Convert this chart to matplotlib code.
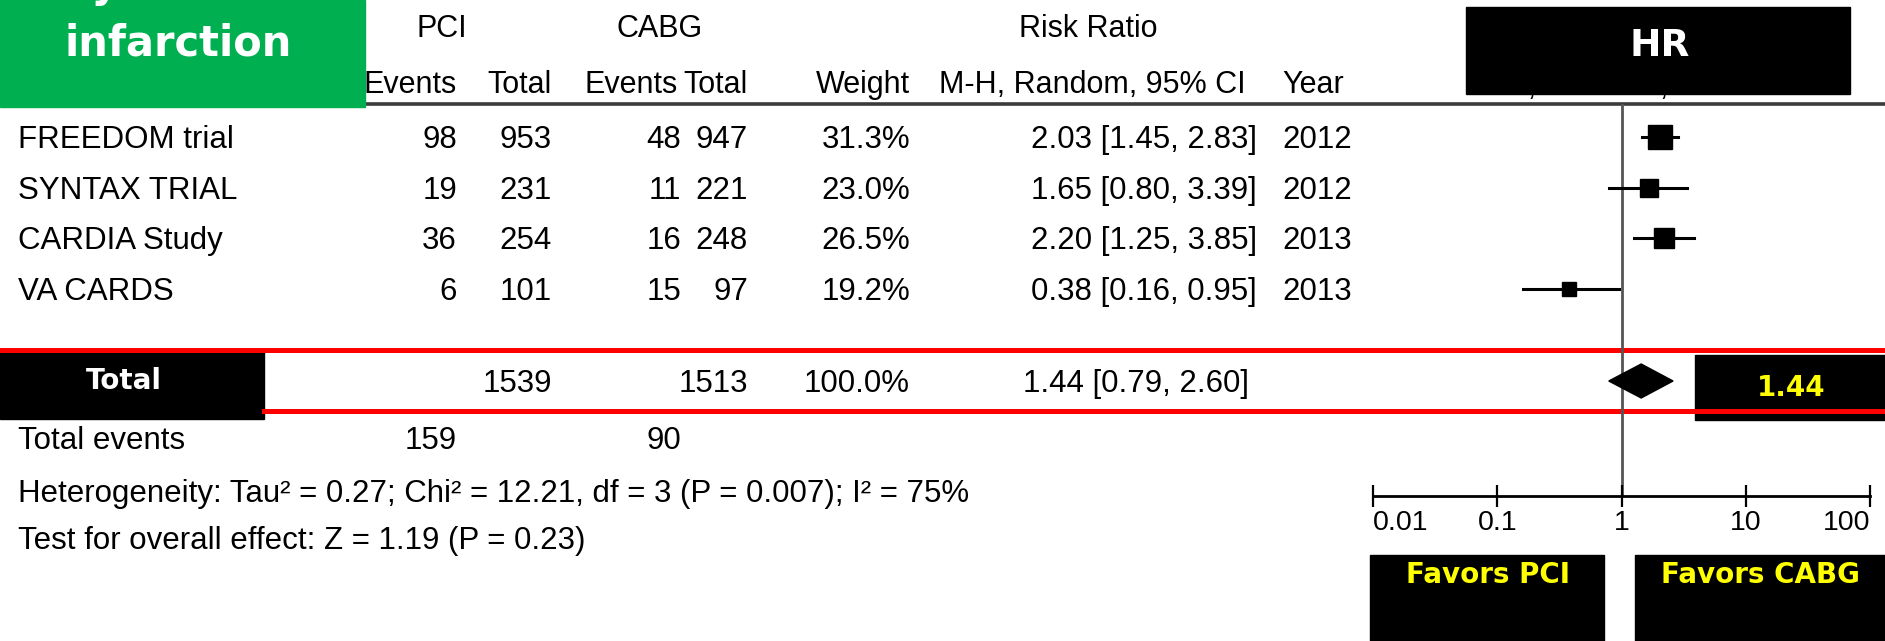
import numpy as np
import matplotlib
matplotlib.use("Agg")
import matplotlib.pyplot as plt
from matplotlib.patches import Rectangle

plt.rcParams['font.family'] = ['Liberation Sans', 'DejaVu Sans']

# study level data
studies = ["FREEDOM trial", "SYNTAX TRIAL", "CARDIA Study", "VA CARDS"]
pci_events = [98, 19, 36, 6]
pci_total = [953, 231, 254, 101]
cabg_events = [48, 11, 16, 15]
cabg_total = [947, 221, 248, 97]
weights = [31.3, 23.0, 26.5, 19.2]
rr = [2.03, 1.65, 2.20, 0.38]
ci_lo = [1.45, 0.80, 1.25, 0.16]
ci_hi = [2.83, 3.39, 3.85, 0.95]
years = [2012, 2012, 2013, 2013]

# pooled result
total_pci = 1539
total_cabg = 1513
total_weight = 100.0
total_rr = 1.44
total_lo = 0.79
total_hi = 2.60
events_pci = 159
events_cabg = 90
heterogeneity = "Heterogeneity: Tau\u00b2 = 0.27; Chi\u00b2 = 12.21, df = 3 (P = 0.007); I\u00b2 = 75%"
overall = "Test for overall effect: Z = 1.19 (P = 0.23)"

axis_ticks = [0.01, 0.1, 1, 10, 100]
axis_labels = ["0.01", "0.1", "1", "10", "100"]

W, H = 1885, 641
fig = plt.figure(figsize=(W / 100, H / 100), dpi=100)

# overlay in pixel units for the table part
ov = fig.add_axes([0, 0, 1, 1])
ov.set_xlim(0, W)
ov.set_ylim(H, 0)
ov.axis("off")

fs = 22.5
dy = 3  # nudge so the glyphs sit on the row centre


def cell(x, y, s, ha="right", size=fs):
    ov.text(x, y + dy, s, fontsize=size, ha=ha, va="center")


row_y = [137, 188, 238, 289]
total_y = 381
col_pci_ev, col_pci_tot, col_cabg_ev, col_cabg_tot = 457, 552, 681, 748
col_weight, col_rr, col_year = 910, 1257, 1282

# headers
h1, h2 = 26, 82
hs = 22
cell(442, h1, "PCI", "center", hs)
cell(660, h1, "CABG", "center", hs)
cell(1088, h1, "Risk Ratio", "center", hs)
cell(1625, h1, "Risk Ratio", "center", hs)
cell(col_pci_ev, h2, "Events", size=hs)
cell(col_pci_tot, h2, "Total", size=hs)
cell(col_cabg_ev - 3, h2, "Events", size=hs)
cell(col_cabg_tot, h2, "Total", size=hs)
cell(col_weight, h2, "Weight", size=hs)
cell(1092, h2, "M-H, Random, 95% CI", "center", hs)
cell(col_year, h2, "Year", "left", hs)
cell(1623, h2 + 2, "M-H, Random, 95% CI", "center", hs)
ov.plot([365, W], [104, 104], color="#3a3a3a", lw=2.6)

# study rows
for i, y in enumerate(row_y):
    cell(18, y, studies[i], "left")
    cell(col_pci_ev, y, str(pci_events[i]))
    cell(col_pci_tot, y, str(pci_total[i]))
    cell(col_cabg_ev, y, str(cabg_events[i]))
    cell(col_cabg_tot, y, str(cabg_total[i]))
    cell(col_weight, y, f"{weights[i]:.1f}%")
    cell(col_rr, y, f"{rr[i]:.2f} [{ci_lo[i]:.2f}, {ci_hi[i]:.2f}]")
    cell(col_year, y, str(years[i]), "left")

# total row
cell(col_pci_tot, total_y, str(total_pci))
cell(col_cabg_tot, total_y, str(total_cabg))
cell(col_weight, total_y, f"{total_weight:.1f}%")
cell(col_rr - 8, total_y, f"{total_rr:.2f} [{total_lo:.2f}, {total_hi:.2f}]")

cell(18, 438, "Total events", "left")
cell(col_pci_ev, 438, str(events_pci))
cell(col_cabg_ev, 438, str(events_cabg))
cell(18, 491, heterogeneity, "left")
cell(18, 538, overall, "left")

# forest panel on a log scale
x0, x1 = 1373, 1870
y_top, y_axis = 104, 496
fx = fig.add_axes([x0 / W, 1 - y_axis / H, (x1 - x0) / W, (y_axis - y_top) / H])
fx.set_xscale("log")
fx.set_xlim(axis_ticks[0], axis_ticks[-1])
fx.set_ylim(y_axis, y_top)
fx.patch.set_alpha(0)
for s in ["top", "left", "right"]:
    fx.spines[s].set_visible(False)
fx.spines["bottom"].set_linewidth(2)
fx.set_yticks([])
fx.set_xticks(axis_ticks)
fx.set_xticklabels(axis_labels)
fx.xaxis.set_minor_locator(matplotlib.ticker.NullLocator())
fx.tick_params(axis="x", direction="inout", length=16, width=1.6, labelsize=20.5, pad=2)
tl = fx.get_xticklabels()
tl[0].set_ha("left")
tl[-1].set_ha("right")

fx.axvline(1, color="#555555", lw=2, zorder=1)
for i, y in enumerate(row_y):
    fx.plot([ci_lo[i], ci_hi[i]], [y, y], color="black", lw=2.2, zorder=2)
    fx.plot(rr[i], y, marker="s", color="black", ms=0.55 * weights[i], zorder=3)

dh = 17
fx.fill([total_lo, total_rr, total_hi, total_rr],
        [total_y, total_y - dh, total_y, total_y + dh],
        color="black", zorder=3)

# highlight boxes and labels
bold = dict(fontweight="bold", family="DejaVu Sans", zorder=5)
ov.add_patch(Rectangle((0, 0), 365, 107, color="#00B050", zorder=4))
ov.text(178, -3, "Myocardial", fontsize=30, color="white", ha="center", va="baseline", **bold)
ov.text(178, 56, "infarction", fontsize=30, color="white", ha="center", va="baseline", **bold)

ov.add_patch(Rectangle((1466, 7), 384, 87, color="black", zorder=4))
ov.text(1660, 46, "HR", fontsize=27, color="white", ha="center", va="center", **bold)

ov.add_patch(Rectangle((0, 352), 264, 67, color="black", zorder=4))
ov.text(124, 381, "Total", fontsize=20, color="white", ha="center", va="center", **bold)

ov.add_patch(Rectangle((1695, 355), W - 1695, 65, color="black", zorder=4))
ov.text(1791, 388, f"{total_rr:.2f}", fontsize=20, color="#FFFF00", ha="center", va="center", **bold)

ov.plot([0, W], [350, 350], color="#FF0000", lw=3.6, zorder=6)
ov.plot([264, W], [411, 411], color="#FF0000", lw=3.6, zorder=6)

ov.add_patch(Rectangle((1370, 555), 234, H - 555, color="black", zorder=4))
ov.text(1488, 575, "Favors PCI", fontsize=20, color="#FFFF00", ha="center", va="center", **bold)
ov.add_patch(Rectangle((1635, 555), W - 1635, H - 555, color="black", zorder=4))
ov.text(1760, 575, "Favors CABG", fontsize=20, color="#FFFF00", ha="center", va="center", **bold)

fig.savefig("out.png", dpi=100)
